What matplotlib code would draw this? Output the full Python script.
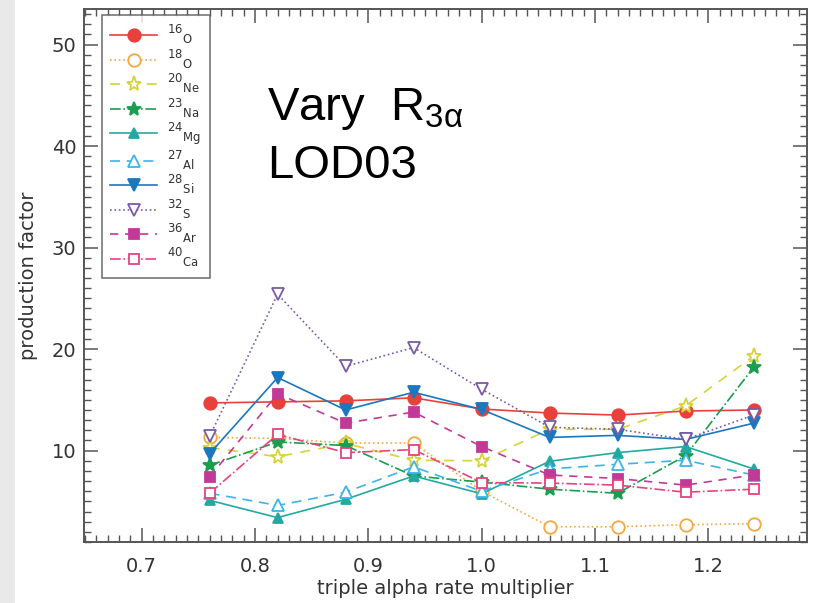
import matplotlib
matplotlib.use("Agg")
import matplotlib.pyplot as plt
from matplotlib.patches import Rectangle
from matplotlib.ticker import MultipleLocator

plt.rcParams['font.family'] = ['DejaVu Sans']
plt.rcParams['mathtext.default'] = 'regular'

x = [0.76, 0.82, 0.88, 0.94, 1.00, 1.06, 1.12, 1.18, 1.24]

o16  = [14.7, 14.8, 14.9, 15.2, 14.1, 13.7, 13.5, 13.9, 14.0]
o18  = [11.3, 11.2, 10.75, 10.75, 6.0, 2.5, 2.5, 2.7, 2.8]
ne20 = [10.3, 9.4, 10.7, 9.05, 9.0, 12.1, 12.1, 14.4, 19.3]
na23 = [8.55, 10.85, 10.5, 7.5, 6.9, 6.2, 5.8, 9.5, 18.2]
mg24 = [5.1, 3.4, 5.2, 7.5, 5.75, 8.95, 9.8, 10.4, 8.2]
al27 = [5.8, 4.6, 5.9, 8.4, 6.0, 8.2, 8.65, 9.05, 7.6]
si28 = [9.7, 17.2, 14.0, 15.75, 14.05, 11.3, 11.5, 11.1, 12.7]
s32  = [11.4, 25.4, 18.3, 20.15, 16.05, 12.3, 12.1, 11.1, 13.5]
ar36 = [7.4, 15.6, 12.7, 13.8, 10.4, 7.6, 7.25, 6.6, 7.6]
ca40 = [5.8, 11.6, 9.8, 10.1, 6.85, 6.8, 6.6, 5.9, 6.2]

series = [
    ("16", "O",  o16,  '#e8413c', '-',  'o', True,  9),
    ("18", "O",  o18,  '#f5a742', ':',  'o', False, 9),
    ("20", "Ne", ne20, '#d6d33a', (0, (6, 5)), '*', False, 11),
    ("23", "Na", na23, '#1a9e50', '-.', '*', True,  10),
    ("24", "Mg", mg24, '#22aaa0', '-',  '^', True,  7),
    ("27", "Al", al27, '#3cb4ea', (0, (6, 4)), '^', False, 8),
    ("28", "Si", si28, '#1b78bd', '-',  'v', True,  8),
    ("32", "S",  s32,  '#7a5aa8', ':',  'v', False, 8),
    ("36", "Ar", ar36, '#c23a98', (0, (5, 4)), 's', True,  7),
    ("40", "Ca", ca40, '#e8437c', '-.', 's', False, 7),
]

fig = plt.figure(figsize=(8.14, 6.03), dpi=100)
fig.patches.append(Rectangle((0, 0), 15 / 814, 1, transform=fig.transFigure,
                             facecolor='#e9e9e9', edgecolor='none', zorder=0))
ax = fig.add_axes([0.103, 0.1012, 0.889, 0.8839])

for mass, el, vals, col, ls, mk, filled, ms in series:
    ax.plot(x, vals, color=col, linestyle=ls, linewidth=1.2, marker=mk,
            markersize=ms, markerfacecolor=col if filled else 'white',
            markeredgecolor=col, markeredgewidth=1.3,
            label=r'$^{%s}{}_{%s}$' % (mass, el))

ax.set_xlim(0.649, 1.2876)
ax.set_ylim(1, 53.5)
ax.xaxis.set_minor_locator(MultipleLocator(0.01))
ax.yaxis.set_minor_locator(MultipleLocator(1))
ax.set_yticks([10, 20, 30, 40, 50])
ax.set_xticks([0.7, 0.8, 0.9, 1.0, 1.1, 1.2])
ax.set_xticklabels(['0.7', '0.8', '0.9', '1.0', '1.1', '1.2'])
ax.tick_params(which='both', direction='in', top=True, right=True,
               color='#555555', labelcolor='#333333', labelsize=14)
ax.tick_params(which='major', length=10, width=1.1)
ax.tick_params(which='minor', length=5, width=1.0)
ax.tick_params(axis='x', which='major', pad=11)
ax.tick_params(axis='y', which='major', pad=5.5)
for sp in ax.spines.values():
    sp.set_color('#555555')
    sp.set_linewidth(1.4)

ax.set_xlabel('triple alpha rate multiplier', fontsize=14, color='#333333', labelpad=2)
ax.set_ylabel('production factor', fontsize=14, color='#333333', labelpad=10)

leg = ax.legend(loc='upper left', bbox_to_anchor=(0.0253, 0.989), borderaxespad=0,
                fontsize=12, frameon=True, fancybox=False, edgecolor='#555555',
                handlelength=2.8, labelspacing=0.08, borderpad=0.5,
                handletextpad=0.6)
leg.get_frame().set_linewidth(1.2)
for t in leg.get_texts():
    t.set_color('#333333')

fig.text(267 / 814, 1 - 120 / 603, r'Vary  R$_{3\alpha}$', fontsize=34,
         family=['Liberation Sans', 'DejaVu Sans'], color='black', va='baseline')
fig.text(267 / 814, 1 - 178 / 603, 'LOD03', fontsize=34,
         family=['Liberation Sans', 'DejaVu Sans'], color='black', va='baseline')

fig.savefig('out.png', dpi=100)
